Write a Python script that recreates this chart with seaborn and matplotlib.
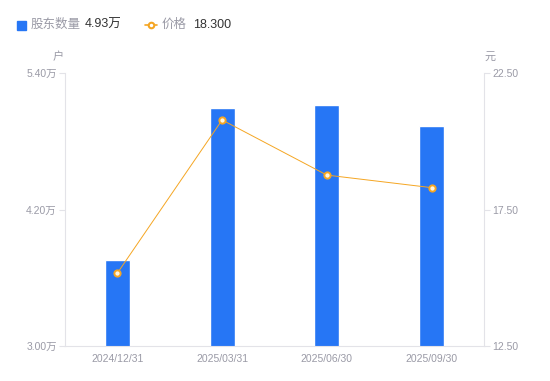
import numpy as np
import matplotlib
matplotlib.use("Agg")
import matplotlib.pyplot as plt
import seaborn as sns

# Data
dates = ["2024/12/31", "2025/03/31", "2025/06/30", "2025/09/30"]
holders = [3.76, 5.09, 5.12, 4.93]        # 万户
prices = [15.17, 20.78, 18.76, 18.30]     # 元
left_ticks = [3.00, 4.20, 5.40]
right_ticks = [12.50, 17.50, 22.50]

sns.set_style("white")
plt.rcParams['font.family'] = ['Liberation Sans', 'Noto Sans CJK SC', 'DejaVu Sans']

blue = "#2676F5"
orange = "#F5A623"
grey = "#9a9aa6"
axis_grey = "#e3e3e8"

fig = plt.figure(figsize=(5.5, 3.81), dpi=100)
ax = fig.add_axes([65 / 550, 35 / 381, 419 / 550, 273 / 381])

sns.barplot(x=dates, y=holders, color=blue, width=0.24, saturation=1, ax=ax)
ax.set_xlim(-0.5, len(dates) - 0.5)
ax.set_ylim(3.0, 5.4)
ax.set_yticks(left_ticks)
ax.set_yticklabels([f"{v:.2f}万" for v in left_ticks])
ax.set_xlabel("")
ax.set_ylabel("")

ax2 = ax.twinx()
sns.lineplot(x=np.arange(len(dates)), y=prices, ax=ax2, color=orange,
             linewidth=0.7, marker="o", markersize=4.5, markeredgewidth=1.4,
             markerfacecolor="#fff6e0", markeredgecolor=orange, sort=False)
ax2.set_ylim(12.5, 22.5)
ax2.set_yticks(right_ticks)
ax2.set_yticklabels([f"{v:.2f}" for v in right_ticks])
ax2.set_ylabel("")

for a in (ax, ax2):
    for s in a.spines.values():
        s.set_visible(False)
    a.tick_params(axis="both", colors=axis_grey, labelcolor=grey,
                  labelsize=7.5, length=4, width=0.8, pad=2)
ax.spines["left"].set_visible(True)
ax.spines["left"].set_color(axis_grey)
ax.spines["bottom"].set_visible(True)
ax.spines["bottom"].set_color(axis_grey)
ax2.spines["right"].set_visible(True)
ax2.spines["right"].set_color(axis_grey)
ax.tick_params(axis="x", length=0, pad=6)

# axis unit labels
fig.text(58 / 550, 1 - 57 / 381, "户", color=grey, fontsize=8, ha="center", va="center")
fig.text(490 / 550, 1 - 57 / 381, "元", color=grey, fontsize=8, ha="center", va="center")

# legend row
ly = 1 - 25 / 381
fig.patches.append(plt.Rectangle((17 / 550, ly - 4.5 / 381), 9 / 550, 9 / 381,
                                 transform=fig.transFigure, color=blue))
fig.text(31 / 550, ly, "股东数量", color=grey, fontsize=9, va="center")
fig.text(85 / 550, ly, "4.93万", color="#333333", fontsize=9, va="center")
fig.lines.append(plt.Line2D([145 / 550, 151 / 550, 157 / 550], [ly, ly, ly],
                            transform=fig.transFigure, color=orange, linewidth=1.2,
                            marker="o", markersize=4, markevery=[1],
                            markerfacecolor="white", markeredgewidth=1.5))
fig.text(162 / 550, ly, "价格", color=grey, fontsize=9, va="center")
fig.text(193 / 550, ly, "18.300", color="#333333", fontsize=9, va="center")

fig.savefig("out.png", dpi=100)
